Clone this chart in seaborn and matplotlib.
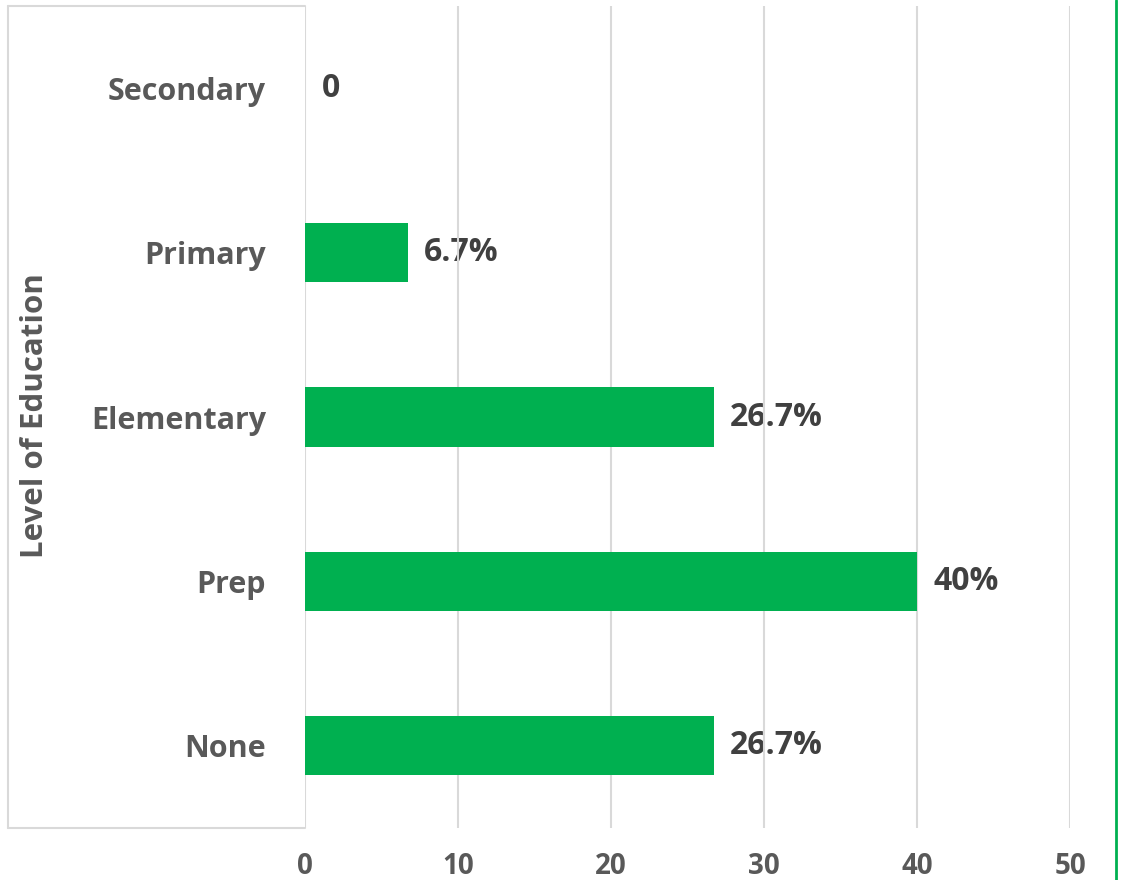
import matplotlib
matplotlib.use("Agg")
import matplotlib.pyplot as plt
import seaborn as sns
import pandas as pd
from matplotlib.lines import Line2D

# data
levels = ["Secondary", "Primary", "Elementary", "Prep", "None"]
values = [0, 6.7, 26.7, 40, 26.7]
labels = ["0", "6.7%", "26.7%", "40%", "26.7%"]
xticks = [0, 10, 20, 30, 40, 50]

df = pd.DataFrame({"level": levels, "value": values})

sns.set_theme(style="white")
plt.rcParams["font.family"] = ["Open Sans", "DejaVu Sans"]

fig = plt.figure(figsize=(11.25, 8.8), dpi=100)
ax = fig.add_axes([305 / 1125, 52 / 880, 765 / 1125, 822 / 880])

sns.barplot(data=df, x="value", y="level", order=levels, color="#00B050",
            width=0.36, saturation=1, linewidth=0, ax=ax, zorder=3)

ax.set_xlim(0, 50)
ax.set_ylim(4.5, -0.5)
ax.set_xticks(xticks)
ax.grid(axis="x", color="#d9d9d9", linewidth=1.5, zorder=1)
for s in ax.spines.values():
    s.set_visible(False)

txt = "#595959"
ax.tick_params(axis="x", length=0, labelsize=20, labelcolor=txt, pad=17)
ax.tick_params(axis="y", length=0, labelsize=22, labelcolor=txt, pad=28)
for t in ax.get_xticklabels() + ax.get_yticklabels():
    t.set_fontweight("bold")
ax.set_xlabel("")
ax.set_ylabel("")

# value labels (grid shows through them like in the original)
for i, (v, lab) in enumerate(zip(values, labels)):
    ax.annotate(lab, (v, i), xytext=(12, 0), textcoords="offset points",
                va="center", ha="left", fontsize=23, fontweight="bold",
                color="#404040", zorder=0.5)

fig.text(35 / 1125, 1 - 416 / 880, "Level of Education", rotation=90,
         ha="center", va="center", fontsize=22.5, fontweight="bold", color=txt)

# box around category label area
gray = "#d9d9d9"
fig.add_artist(Line2D([8 / 1125, 305 / 1125], [1 - 6 / 880, 1 - 6 / 880], color=gray, lw=1.5))
fig.add_artist(Line2D([8 / 1125, 305 / 1125], [1 - 828 / 880, 1 - 828 / 880], color=gray, lw=1.5))
fig.add_artist(Line2D([8 / 1125, 8 / 1125], [1 - 6 / 880, 1 - 828 / 880], color=gray, lw=1.5))
# green line on the right
fig.add_artist(Line2D([1116 / 1125, 1116 / 1125], [0, 1], color="#00B050", lw=2))

fig.savefig("out.png", dpi=100)
